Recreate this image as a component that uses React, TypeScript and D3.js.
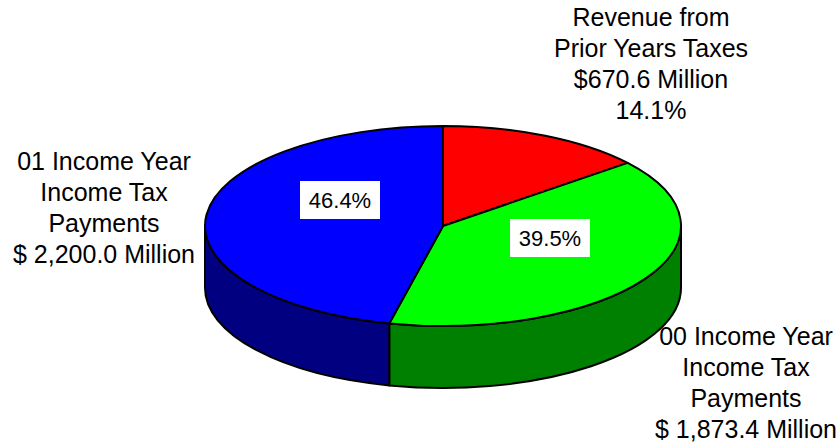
import React from "react";
import * as d3 from "d3";

const categories = ["Revenue from Prior Years Taxes", "00 Income Year Income Tax Payments", "01 Income Year Income Tax Payments"];
const values = [670.6, 1873.4, 2200.0];
const topColors = ["#ff0000", "#00ff00", "#0000ff"];
const sideColors = ["#800000", "#008000", "#000080"];
const percentLabels = [
  { text: "46.4%", x: 340, y: 200 },
  { text: "39.5%", x: 550, y: 238 },
];
const outerLabels = [
  { lines: ["Revenue from", "Prior Years Taxes", "$670.6 Million", "14.1%"], x: 651, y: 26 },
  { lines: ["01 Income Year", "Income Tax", "Payments", "$ 2,200.0 Million"], x: 104, y: 169.5 },
  { lines: ["00 Income Year", "Income Tax", "Payments", "$ 1,873.4 Million"], x: 746, y: 345 },
];

const cx = 443;
const cy = 226;
const rx = 238;
const ry = 100;
const depth = 62;
const lineHeight = 31;

const App = () => {
  const slices = d3.pie<number>().sort(null)(values);

  const px = (a: number) => cx + rx * Math.sin(a);
  const py = (a: number) => cy - ry * Math.cos(a);

  // top face of one slice
  const topPath = (s: d3.PieArcDatum<number>) => {
    const large = s.endAngle - s.startAngle > Math.PI ? 1 : 0;
    return `M${cx},${cy}L${px(s.startAngle)},${py(s.startAngle)}A${rx},${ry} 0 ${large} 1 ${px(s.endAngle)},${py(s.endAngle)}Z`;
  };

  // front wall, only the part of the rim that faces down
  const sidePath = (s: d3.PieArcDatum<number>) => {
    const a0 = Math.max(s.startAngle, Math.PI / 2);
    const a1 = Math.min(s.endAngle, (3 * Math.PI) / 2);
    if (a1 <= a0) return null;
    return `M${px(a0)},${py(a0)}A${rx},${ry} 0 0 1 ${px(a1)},${py(a1)}L${px(a1)},${py(a1) + depth}A${rx},${ry} 0 0 0 ${px(a0)},${py(a0) + depth}Z`;
  };

  return (
    <svg width={840} height={446} style={{ position: "absolute", left: 0, top: 0 }} fontFamily="'Liberation Sans', Arial, sans-serif">
      <rect width={840} height={446} fill="#ffffff" />
      {slices.map((s, i) => {
        const d = sidePath(s);
        return d ? <path key={categories[i]} d={d} fill={sideColors[i]} stroke="#000" strokeWidth={2} strokeLinejoin="round" /> : null;
      })}
      {slices.map((s, i) => (
        <path key={categories[i]} d={topPath(s)} fill={topColors[i]} stroke="#000" strokeWidth={2} strokeLinejoin="round" />
      ))}
      {percentLabels.map((p) => (
        <g key={p.text}>
          <rect x={p.x - 40} y={p.y - 19} width={80} height={38} fill="#ffffff" />
          <text x={p.x} y={p.y + 7.5} textAnchor="middle" fontSize={22} fill="#000">{p.text}</text>
        </g>
      ))}
      {outerLabels.map((l) => (
        <text key={l.lines[0]} textAnchor="middle" fontSize={25} fill="#000">
          {l.lines.map((t, i) => (
            <tspan key={t} x={l.x} y={l.y + i * lineHeight}>{t}</tspan>
          ))}
        </text>
      ))}
    </svg>
  );
};

export default App;
